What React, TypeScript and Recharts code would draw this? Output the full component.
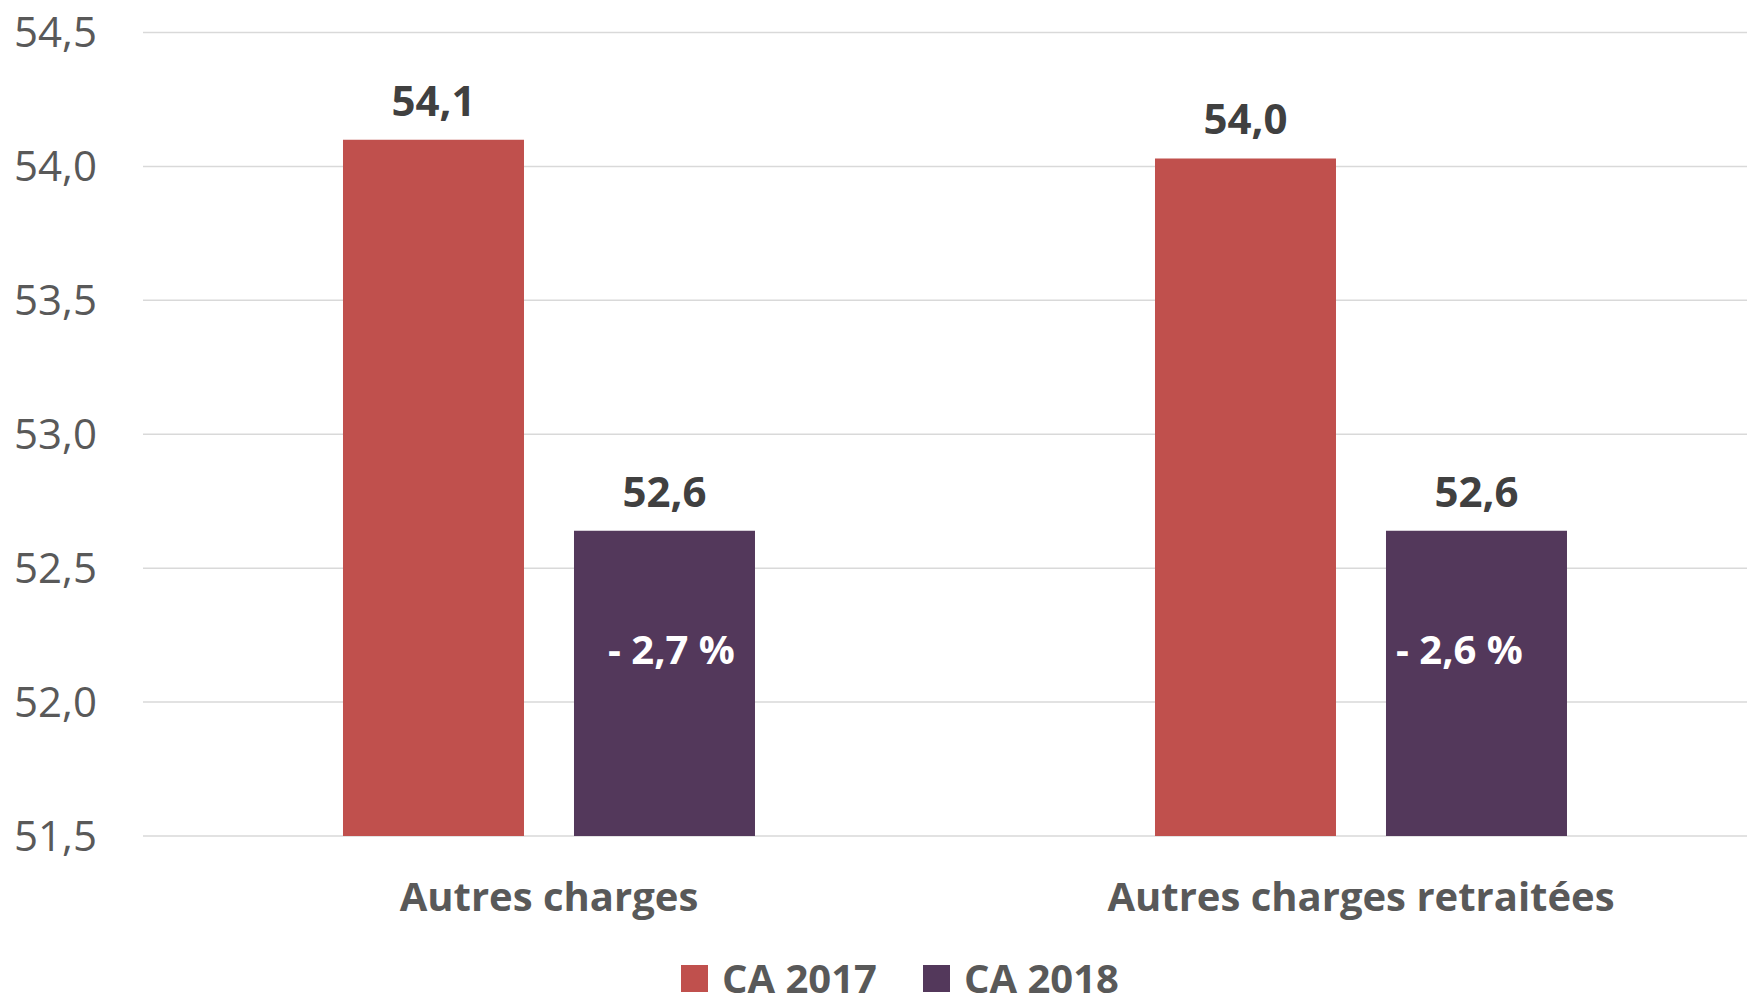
import { BarChart, Bar, XAxis, YAxis, CartesianGrid, LabelList, Legend } from 'recharts'

const categories = ['Autres charges', 'Autres charges retraitées']
const ca2017 = [54.1, 54.03]
const ca2018 = [52.64, 52.64]
const variation = ['- 2,7 %', '- 2,6 %']
const yTicks = [51.5, 52, 52.5, 53, 53.5, 54, 54.5]

const RED = '#C0504D'
const PURPLE = '#53385B'
const FONT = '"Open Sans", sans-serif'

const data = categories.map((name, i) => ({
  name,
  ca2017: ca2017[i],
  ca2018: ca2018[i],
  pct: variation[i],
}))

const fmt = (v: any) => Number(v).toFixed(1).replace('.', ',')

// the variation labels were hand placed in the original, not exactly centred
const PCT_NUDGE = [7, -17]

const PctLabel = (props: any) => {
  const { x, y, width, value, index } = props
  return (
    <text
      x={x + width / 2 + (PCT_NUDGE[index] ?? 0)}
      y={y + 119}
      dy="0.355em"
      textAnchor="middle"
      fill="#ffffff"
      fontFamily={FONT}
      fontWeight={700}
      fontSize={40}
    >
      {value}
    </text>
  )
}

const LegendContent = () => (
  <div style={{ display: 'flex', alignItems: 'center', fontFamily: FONT, fontWeight: 700, fontSize: 40, lineHeight: '34px', color: '#595959' }}>
    {[
      { label: 'CA 2017', color: RED },
      { label: 'CA 2018', color: PURPLE },
    ].map((item, i) => (
      <div key={item.label} style={{ display: 'flex', alignItems: 'center', marginLeft: i ? 46 : 0 }}>
        <span style={{ width: 27, height: 27, background: item.color, marginRight: 14, display: 'inline-block' }} />
        <span>{item.label}</span>
      </div>
    ))}
  </div>
)

export default function App() {
  return (
    <div style={{ position: 'absolute', left: 0, top: 0, width: 1747, height: 997, overflow: 'hidden', background: '#fff' }}>
      <BarChart
        width={1790}
        height={997}
        data={data}
        margin={{ top: 32.5, right: 23, bottom: 101, left: 0 }}
        barCategoryGap="24.63%"
        barGap={50}
      >
        <CartesianGrid vertical={false} stroke="#D9D9D9" strokeWidth={1.5} />
        <XAxis
          dataKey="name"
          axisLine={false}
          tickLine={false}
          tickSize={0}
          tickMargin={47}
          height={60}
          tick={{ fill: '#595959', fontFamily: FONT, fontWeight: 700, fontSize: 40 }}
        />
        <YAxis
          domain={[51.5, 54.5]}
          ticks={yTicks}
          width={143}
          axisLine={false}
          tickLine={false}
          tickSize={0}
          tickMargin={46}
          tickFormatter={fmt}
          tick={{ fill: '#595959', fontFamily: FONT, fontSize: 42 }}
        />
        <Legend
          layout="horizontal"
          verticalAlign="middle"
          align="center"
          content={LegendContent}
          wrapperStyle={{ left: 681, top: 961, width: 'auto', height: 34 }}
        />
        <Bar dataKey="ca2017" name="CA 2017" fill={RED} isAnimationActive={false}>
          <LabelList
            dataKey="ca2017"
            position="top"
            offset={24}
            formatter={fmt}
            style={{ fill: '#404040', fontFamily: FONT, fontWeight: 700, fontSize: 42 }}
          />
        </Bar>
        <Bar dataKey="ca2018" name="CA 2018" fill={PURPLE} isAnimationActive={false}>
          <LabelList
            dataKey="ca2018"
            position="top"
            offset={24}
            formatter={fmt}
            style={{ fill: '#404040', fontFamily: FONT, fontWeight: 700, fontSize: 42 }}
          />
          <LabelList dataKey="pct" content={PctLabel} />
        </Bar>
      </BarChart>
    </div>
  )
}
